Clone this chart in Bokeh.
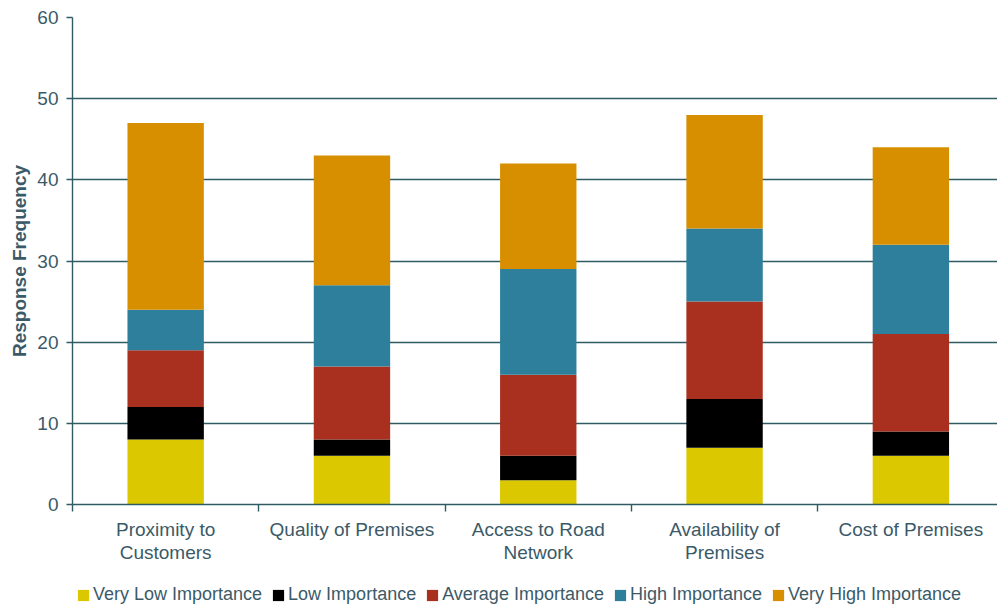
from bokeh.plotting import figure
from bokeh.layouts import column
from bokeh.models import FixedTicker, Legend, LegendItem, Range1d, ColumnDataSource
from bokeh.embed import file_html
from bokeh.resources import INLINE

categories = ["Proximity to\nCustomers", "Quality of Premises", "Access to Road\nNetwork",
              "Availability of\nPremises", "Cost of Premises"]
series_names = ["Very Low Importance", "Low Importance", "Average Importance",
                "High Importance", "Very High Importance"]
very_low = [8, 6, 3, 7, 6]
low = [4, 2, 3, 6, 3]
average = [7, 9, 10, 12, 12]
high = [5, 10, 13, 9, 11]
very_high = [23, 16, 13, 14, 12]
y_ticks = [0, 10, 20, 30, 40, 50, 60]

colors = ["#dcc800", "#000000", "#a9301f", "#2e7f9b", "#d78f00"]
TEXT = "#3b5a68"
LINE = "#2f5c62"
FONT = "Liberation Sans"

xs = [i + 0.5 for i in range(len(categories))]
keys = ["vl", "l", "a", "h", "vh"]
src = ColumnDataSource(dict(x=xs, vl=very_low, l=low, a=average, h=high, vh=very_high))

p = figure(frame_width=925, frame_height=487, output_backend="svg", toolbar_location=None,
           x_range=Range1d(0, 4.965), y_range=Range1d(0, 60),
           min_border_left=72, min_border_right=0, min_border_top=17, min_border_bottom=0)
p.outline_line_color = None
p.background_fill_color = "white"
p.border_fill_color = "white"

rs = p.vbar_stack(keys, x="x", width=0.41, color=colors, source=src, line_width=0)

p.xgrid.visible = False
p.ygrid.ticker = FixedTicker(ticks=y_ticks)
p.ygrid.grid_line_color = LINE
p.ygrid.grid_line_width = 1.4
p.ygrid.level = "underlay"

# y axis
p.yaxis.ticker = FixedTicker(ticks=y_ticks)
p.yaxis.axis_line_color = LINE
p.yaxis.axis_line_width = 1.4
p.yaxis.major_tick_line_color = LINE
p.yaxis.major_tick_line_width = 1.4
p.yaxis.major_tick_out = 6
p.yaxis.major_tick_in = 0
p.yaxis.minor_tick_line_color = None
p.yaxis.major_label_text_font = FONT
p.yaxis.major_label_text_font_size = "19px"
p.yaxis.major_label_text_color = TEXT
p.yaxis.major_label_standoff = 8
p.yaxis.axis_label = "Response Frequency"
p.yaxis.axis_label_text_font = FONT
p.yaxis.axis_label_text_font_style = "bold"
p.yaxis.axis_label_text_font_size = "19px"
p.yaxis.axis_label_text_color = TEXT
p.yaxis.axis_label_standoff = 4

# x axis
p.xaxis.ticker = FixedTicker(ticks=xs, minor_ticks=list(range(len(categories) + 1)))
p.xaxis.major_label_overrides = {x: c for x, c in zip(xs, categories)}
p.xaxis.axis_line_color = LINE
p.xaxis.axis_line_width = 1.4
p.xaxis.major_tick_line_color = None
p.xaxis.major_tick_out = 0
p.xaxis.major_tick_in = 0
p.xaxis.minor_tick_line_color = LINE
p.xaxis.minor_tick_line_width = 1.4
p.xaxis.minor_tick_out = 7
p.xaxis.minor_tick_in = 0
p.xaxis.major_label_text_font = FONT
p.xaxis.major_label_text_font_size = "19px"
p.xaxis.major_label_text_color = TEXT
p.xaxis.major_label_standoff = 7
p.xaxis.major_label_text_line_height = 1.1

# legend strip (separate small figure under the chart)
leg_fig = figure(width=997, height=44, output_backend="svg", toolbar_location=None,
                 x_range=Range1d(-20, -19), y_range=Range1d(0, 1),
                 min_border=0, x_axis_location=None, y_axis_location=None)
leg_fig.outline_line_color = None
leg_fig.xgrid.visible = False
leg_fig.ygrid.visible = False
leg_rs = leg_fig.vbar_stack(keys, x="x", width=0.41, color=colors, source=src, line_width=0)

legend = Legend(items=[LegendItem(label=n, renderers=[r]) for n, r in zip(series_names, leg_rs)],
                orientation="horizontal", location="bottom_left",
                label_text_font=FONT, label_text_font_size="18px", label_text_color=TEXT,
                glyph_width=14, glyph_height=14, label_standoff=3, spacing=9,
                border_line_color=None, background_fill_alpha=0, padding=0, margin=4)
leg_fig.add_layout(legend, "center")

layout = column(p, leg_fig, spacing=0)
open("out.html", "w").write(file_html(layout, INLINE))
